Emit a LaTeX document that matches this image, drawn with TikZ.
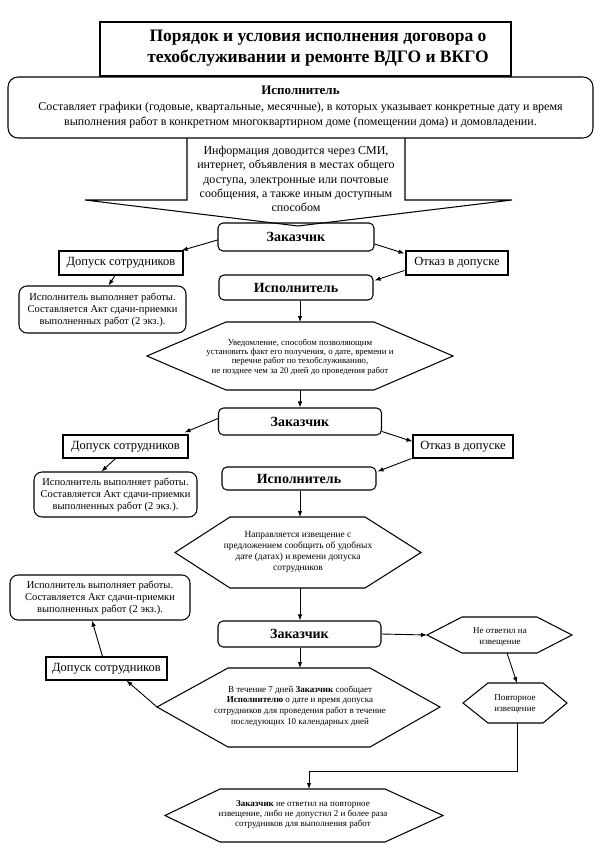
\documentclass[tikz,border=0pt]{standalone}
\usepackage{fontspec}
\setmainfont{Liberation Serif}
\usetikzlibrary{arrows.meta,calc}
\newcommand\myfs[2]{\fontsize{#1}{#2}\selectfont}
\begin{document}
\begin{tikzpicture}[x=1pt,y=-1pt,
  box/.style={draw, line width=1.05pt, inner sep=0pt, align=center},
  rbox/.style={box, rounded corners=5pt},
  sbox/.style={box, font=\myfs{12.5}{14}},
  actor/.style={rbox, font=\bfseries\myfs{14}{16}},
  workbox/.style={box, rounded corners=8pt, font=\myfs{10.5}{12}},
  hexline/.style={line width=1.05pt, line join=miter},
  hextext/.style={align=center, inner sep=0pt, font=\myfs{9}{10.5}},
  arr/.style={-{Latex[length=6pt,width=4.5pt]}, line width=0.9pt}
]
\useasboundingbox (0,0) rectangle (600,848);

% title
\node[box, minimum width=411pt, minimum height=54pt] (title) at (305.5,49) {};
\node[align=center, inner sep=0pt, font=\bfseries\myfs{17.5}{21}] (titletext) at (318,48)
  {Порядок и условия исполнения договора о\\техобслуживании и ремонте ВДГО и ВКГО};

% top executor box
\node[box, rounded corners=10pt, minimum width=585pt, minimum height=61pt, font=\myfs{12}{15.5}] (ispA) at (300.5,107.5)
  {{\bfseries\myfs{13}{15.5}Исполнитель}\\Составляет графики (годовые, квартальные, месячные), в которых указывает конкретные дату и время\\выполнения работ в конкретном многоквартирном доме (помещении дома) и домовладении.};

% callout arrow
\draw[hexline] (187,138) -- (187,200) -- (85,200) -- (298,226) coordinate (tip) -- (512,200) -- (405,200) -- (405,138);
\node[align=center, inner sep=0pt, font=\myfs{12}{14.3}] (info) at (296,179)
  {Информация доводится через СМИ,\\интернет, объявления в местах общего\\доступа, электронные или почтовые\\сообщения, а также иным доступным\\способом};

% ---- section 1
\node[actor, minimum width=156pt, minimum height=28pt] (zak1) at (296,237) {Заказчик};
\node[sbox, minimum width=124pt, minimum height=24pt] (dop1) at (121,263) {Допуск сотрудников};
\node[sbox, minimum width=102pt, minimum height=24pt] (otk1) at (457,263) {Отказ в допуске};
\node[actor, minimum width=154pt, minimum height=25pt] (isp2) at (296,287.5) {Исполнитель};
\node[workbox, minimum width=167pt, minimum height=47pt] (lb1) at (102.5,309.5)
  {Исполнитель выполняет работы.\\Составляется Акт сдачи-приемки\\выполненных работ (2 экз.).};
\draw[hexline] (147,356) coordinate (h1l) -- (226,322) -- (374,322) -- (453,356) coordinate (h1r) -- (374,390) -- (226,390) -- cycle;
\coordinate (h1t) at (300,322);
\coordinate (h1b) at (300,390);
\node[hextext, font=\myfs{8.8}{9.4}] (h1text) at (300,357)
  {Уведомление, способом позволяющим\\установить факт его получения, о дате, времени и\\перечне работ по техобслуживанию,\\не позднее чем за 20 дней до проведения работ};

\draw[arr] ($(zak1.west)+(0,3)$) -- ($(dop1.north east)+(-2,0)$);
\draw[arr] ($(zak1.east)+(0,7)$) -- ($(otk1.north west)+(-1,3)$);
\draw[arr] ($(otk1.south west)+(-1,-5)$) -- ($(isp2.east)+(1,-7)$);
\draw[arr] ($(dop1.south)+(-6,0)$) -- ($(lb1.north)+(6,0)$);
\draw[arr] (isp2.south -| h1t) -- (h1t);

% ---- section 2
\node[actor, minimum width=163pt, minimum height=27pt] (zak2) at (300,421.5) {Заказчик};
\node[sbox, minimum width=125pt, minimum height=23pt] (dop2) at (125.5,446.5) {Допуск сотрудников};
\node[sbox, minimum width=100pt, minimum height=23pt] (otk2) at (463,446.5) {Отказ в допуске};
\node[actor, minimum width=154pt, minimum height=23pt] (isp3) at (299,478.5) {Исполнитель};
\node[workbox, minimum width=163pt, minimum height=45pt] (lb2) at (115.5,494.5)
  {Исполнитель выполняет работы.\\Составляется Акт сдачи-приемки\\выполненных работ (2 экз.).};
\draw[hexline] (175,552.5) coordinate (h2l) -- (230,517) -- (365,517) -- (421,552.5) coordinate (h2r) -- (365,588) -- (230,588) -- cycle;
\coordinate (h2t) at (300,517);
\coordinate (h2b) at (300,588);
\node[hextext, font=\myfs{9.4}{11}] (h2text) at (298,551.5)
  {Направляется извещение с\\предложением сообщить об удобных\\дате (датах) и времени допуска\\сотрудников};

\draw[arr] (h1b) -- (h1b |- zak2.north);
\draw[arr] ($(zak2.west)+(0,-3)$) -- ($(dop2.north east)+(-4,-2)$);
\draw[arr] ($(zak2.east)+(0,10)$) -- ($(otk2.north west)+(0,7)$);
\draw[arr] ($(otk2.south west)+(-1,0)$) -- ($(isp3.north east)+(1,5)$);
\draw[arr] ($(dop2.south)+(-10,0)$) -- ($(lb2.north)+(-14,0)$);
\draw[arr] (isp3.south -| h2t) -- (h2t);

% ---- section 3
\node[workbox, minimum width=180pt, minimum height=45pt] (lb3) at (100,597.5)
  {Исполнитель выполняет работы.\\Составляется Акт сдачи-приемки\\выполненных работ (2 экз.).};
\node[actor, minimum width=163pt, minimum height=26pt] (zak3) at (299.5,634) {Заказчик};
\draw[hexline] (427,635) coordinate (hNl) -- (462,617) -- (537,617) -- (572,635) -- (537,653) -- (462,653) -- cycle;
\coordinate (hNb) at (507,653);
\node[hextext] (hNtext) at (500,637) {Не ответил на\\извещение};
\node[sbox, minimum width=121pt, minimum height=23pt] (dop3) at (106.5,668.5) {Допуск сотрудников};
\draw[hexline] (157,707) coordinate (h4l) -- (228,668) -- (370,668) -- (440,707) -- (370,747) -- (228,747) -- cycle;
\coordinate (h4t) at (300,668);
\node[hextext, font=\myfs{9}{10.7}] (h4text) at (300,706)
  {В течение 7 дней \textbf{Заказчик} сообщает\\\textbf{Исполнителю} о дате и время допуска\\сотрудников для проведения работ в течение\\последующих 10 календарных дней};
\draw[hexline] (463,703) -- (488,683) -- (543,683) -- (567,703) -- (543,723) -- (488,723) -- cycle;
\coordinate (hRt) at (517,683);
\coordinate (hRb) at (517,723);
\node[hextext] (hRtext) at (515,704) {Повторное\\извещение};
\draw[hexline] (165,815.5) -- (220,789) -- (385,789) -- (443,815.5) -- (385,842) -- (220,842) -- cycle;
\coordinate (h5t) at (309,789);
\node[hextext, font=\myfs{9}{10}] (h5text) at (303,814)
  {\textbf{Заказчик} не ответил на повторное\\извещение, либо не допустил 2 и более раза\\сотрудников для выполнения работ};
\coordinate (bend) at (517,771);

\draw[arr] (h2b) -- (h2b |- zak3.north);
\draw[arr] (zak3.east) -- (hNl);
\draw[arr] (hNb) -- (hRt);
\draw[arr] (zak3.south -| h4t) -- (h4t);
\draw[arr] (h4l) -- ($(dop3.south)+(20,0)$);
\draw[arr] ($(dop3.north)+(-4,0)$) -- ($(lb3.south)+(-8,0)$);
\draw[arr] (hRb) -- (bend) -| (h5t);
\end{tikzpicture}
\end{document}
